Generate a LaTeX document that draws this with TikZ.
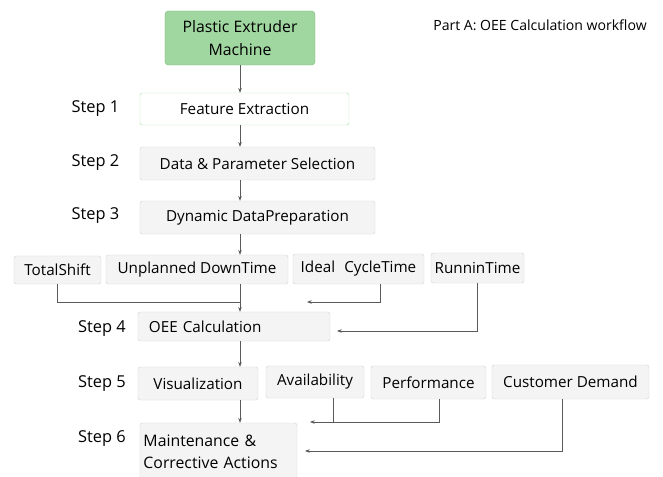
\documentclass[tikz,border=0pt]{standalone}
\usepackage{fontspec}
\setmainfont{Open Sans}
\usetikzlibrary{calc}
\usetikzlibrary{arrows.meta}
\definecolor{boxfill}{RGB}{244,244,244}
\definecolor{boxline}{RGB}{214,214,214}
\definecolor{machfill}{RGB}{160,214,160}
\definecolor{machline}{RGB}{128,190,128}
\definecolor{featline}{RGB}{178,224,178}
\definecolor{connline}{RGB}{90,90,90}
\tikzstyle{stepbox} = [draw=boxline, fill=boxfill, rounded corners=2pt, inner sep=0pt, align=center, font=\fontsize{13}{17}\selectfont]
\tikzstyle{machbox} = [draw=machline, fill=machfill, rounded corners=3pt, inner sep=0pt, align=center, font=\fontsize{13.5}{19}\selectfont]
\tikzstyle{steplabel} = [font=\fontsize{14}{16}\selectfont]
\tikzstyle{conn} = [draw=connline, line width=0.6pt, -{Stealth[length=4pt,width=3pt]}]
\tikzstyle{link} = [draw=connline, line width=0.6pt]

\begin{document}
\begin{tikzpicture}[x=0.03cm, y=-0.03cm]
    \useasboundingbox[fill=white] (0,0) rectangle (663,477);
    \coordinate (spine) at (240,0);

    \node[machbox, minimum width=4.5cm, minimum height=1.62cm] (machine) at (240,38) {Plastic Extruder\\Machine};
    \node[font=\fontsize{12}{14}\selectfont] (title) at (540,25) {Part A: OEE Calculation workflow};

    \node[stepbox, draw=featline, fill=white, minimum width=6.27cm, minimum height=0.96cm] (feature) at (244.5,109) {Feature Extraction};
    \node[stepbox, minimum width=7.05cm, minimum height=0.99cm] (data) at (257.5,163.5) {Data \& Parameter Selection};
    \node[stepbox, minimum width=7.05cm, minimum height=0.99cm] (dynamic) at (257.5,217.5) {Dynamic DataPreparation};

    \node[stepbox, minimum width=2.61cm, minimum height=0.84cm] (total) at (57.5,270) {TotalShift};
    \node[stepbox, minimum width=5.46cm, minimum height=0.87cm] (unplanned) at (197,269.5) {Unplanned DownTime};
    \node[stepbox, minimum width=3.93cm, minimum height=0.9cm] (ideal) at (358.5,269) {Ideal\hspace{0.6em}CycleTime};
    \node[stepbox, minimum width=2.79cm, minimum height=0.9cm] (runnin) at (477.5,268) {RunninTime};

    \node[stepbox, align=left, text width=5.1cm, inner xsep=0.33cm, minimum height=0.87cm] (oee) at (234,326.5) {OEE Calculation};

    \node[stepbox, minimum width=3.6cm, minimum height=0.99cm] (visual) at (198,383.5) {Visualization};
    \node[stepbox, minimum width=2.94cm, minimum height=0.96cm] (avail) at (315,382) {Availability};
    \node[stepbox, minimum width=3.45cm, minimum height=0.99cm] (perf) at (428.5,382.5) {Performance};
    \node[stepbox, minimum width=4.71cm, minimum height=1.02cm] (customer) at (570.5,382) {Customer Demand};

    \node[stepbox, align=left, text width=4.5cm, inner xsep=0.105cm, minimum height=1.71cm, font=\fontsize{13.5}{18.5}\selectfont] (maint) at (218.5,451.5) {Maintenance \&\\Corrective Actions};

    % step labels
    \node[steplabel] (step_one) at (95.5,109) {Step 1};
    \node[steplabel] (step_two) at (95.5,163) {Step 2};
    \node[steplabel] (step_three) at (95.5,216) {Step 3};
    \node[steplabel] (step_four) at (102,329) {Step 4};
    \node[steplabel] (step_five) at (102,384) {Step 5};
    \node[steplabel] (step_six) at (102,439) {Step 6};

    % connector end points
    \coordinate (ideal_out) at (380,0);
    \coordinate (avail_out) at (333,0);
    \coordinate (perf_out) at (439,0);
    \coordinate (cust_out) at (562,0);
    \coordinate (ideal_end) at (307,302);
    \coordinate (runnin_end) at (337,331);
    \coordinate (perf_end) at (310,422);
    \coordinate (cust_end) at (305,451);

    \draw[conn] (machine.south) -- (spine |- feature.north);
    \draw[conn] (spine |- feature.south) -- (spine |- data.north);
    \draw[conn] (spine |- data.south) -- (spine |- dynamic.north);
    \draw[conn] (spine |- dynamic.south) -- (spine |- unplanned.north);
    \draw[conn] (spine |- unplanned.south) -- (spine |- oee.north);
    \draw[link] (total.south) |- (spine |- ideal_end);
    \draw[conn] (ideal_out |- ideal.south) |- (ideal_end);
    \draw[conn] (runnin.south) |- (runnin_end);
    \draw[conn] (spine |- oee.south) -- (spine |- visual.north);
    \draw[conn] (spine |- visual.south) -- (spine |- maint.north);
    \draw[link] (avail_out |- avail.south) -- (avail_out |- perf_end);
    \draw[conn] (perf_out |- perf.south) |- (perf_end);
    \draw[conn] (cust_out |- customer.south) |- (cust_end);
\end{tikzpicture}
\end{document}
